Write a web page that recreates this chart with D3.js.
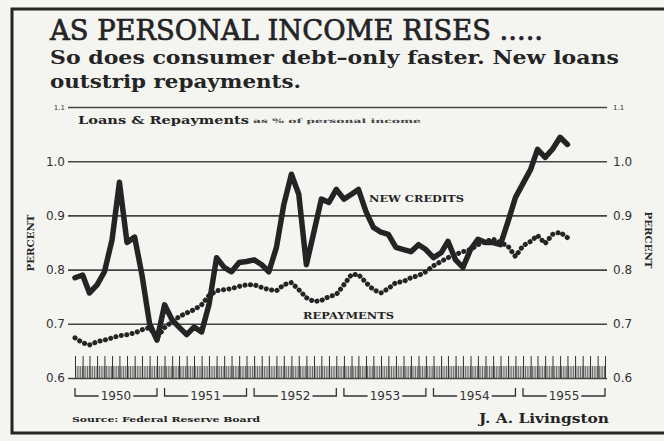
<!DOCTYPE html>
<html><head><meta charset="utf-8">
<script src="https://cdn.jsdelivr.net/npm/d3@7"></script>
<style>
html,body{margin:0;padding:0;background:#f4f4f1;}
svg{display:block;}
</style></head><body>
<svg id="c" width="664" height="441"></svg>
<script>
// ---- data (monthly, Jan 1950 – Jul 1955), % of personal income ----
const newCredits = [
  0.785, 0.790, 0.757, 0.772, 0.796, 0.855, 0.961, 0.850, 0.860, 0.790, 0.700, 0.670,
  0.735, 0.707, 0.694, 0.680, 0.694, 0.685, 0.735, 0.822, 0.804, 0.796, 0.813, 0.815,
  0.818, 0.809, 0.796, 0.841, 0.920, 0.976, 0.939, 0.809, 0.870, 0.930, 0.924, 0.948,
  0.930, 0.939, 0.948, 0.907, 0.878, 0.869, 0.865, 0.841, 0.837, 0.833, 0.846, 0.837,
  0.822, 0.831, 0.852, 0.818, 0.804, 0.837, 0.856, 0.850, 0.850, 0.846, 0.889, 0.933,
  0.959, 0.985, 1.022, 1.007, 1.022, 1.044, 1.031
];
const repayments = [
  0.674, 0.665, 0.661, 0.667, 0.670, 0.674, 0.678, 0.680, 0.683, 0.689, 0.693, 0.674,
  0.693, 0.704, 0.713, 0.720, 0.726, 0.735, 0.752, 0.761, 0.763, 0.765, 0.769, 0.772,
  0.772, 0.767, 0.763, 0.761, 0.772, 0.776, 0.763, 0.748, 0.741, 0.743, 0.750, 0.754,
  0.772, 0.791, 0.791, 0.776, 0.763, 0.757, 0.765, 0.776, 0.778, 0.785, 0.789, 0.796,
  0.807, 0.815, 0.822, 0.828, 0.833, 0.837, 0.846, 0.852, 0.856, 0.850, 0.843, 0.824,
  0.844, 0.852, 0.863, 0.848, 0.865, 0.869, 0.859
];
const yearLabels = ["1950", "1951", "1952", "1953", "1954", "1955"];
const yTicks = [0.6, 0.7, 0.8, 0.9, 1.0, 1.1];
const yTickLabels = ["0.6", "0.7", "0.8", "0.9", "1.0", "1.1"];

const firstYear = 1950;
const months = newCredits.map((_, i) => new Date(firstYear, i, 1));

// ---- layout ----
const svg = d3.select("#c");
const ink = "#242424";
const serif = "'DejaVu Serif', serif";
const sans = "'DejaVu Sans', sans-serif";

const x = d3.scaleTime()
  .domain([new Date(firstYear, 0, 1), new Date(firstYear + yearLabels.length - 1, 11, 1)])
  .range([75, 605]);
const y = d3.scaleLinear().domain([0.6, 1.1]).range([378, 107]);
const gridL = 68, gridR = 607;

// frame
svg.append("rect").attr("x", 12).attr("y", 9).attr("width", 664).attr("height", 424)
  .attr("fill", "none").attr("stroke", ink).attr("stroke-width", 3);

// titles
svg.append("text").attr("x", 50).attr("y", 40)
  .attr("textLength", 493).attr("lengthAdjust", "spacingAndGlyphs")
  .style("font", `27px ${serif}`).attr("fill", ink)
  .attr("stroke", ink).attr("stroke-width", 0.7)
  .text("AS PERSONAL INCOME RISES .....");
svg.append("text").attr("x", 50).attr("y", 64)
  .attr("textLength", 569).attr("lengthAdjust", "spacingAndGlyphs")
  .style("font", `bold 19px ${serif}`).attr("fill", ink)
  .text("So does consumer debt\u2013only faster. New loans");
svg.append("text").attr("x", 50).attr("y", 88)
  .attr("textLength", 251).attr("lengthAdjust", "spacingAndGlyphs")
  .style("font", `bold 19px ${serif}`).attr("fill", ink)
  .text("outstrip repayments.");

// gridlines + left labels
const leftAxis = svg.append("g").attr("transform", `translate(${gridL},0)`)
  .call(d3.axisLeft(y).tickValues(yTicks).tickSize(-(gridR - gridL)).tickPadding(3)
    .tickFormat((d, i) => yTickLabels[i]));
leftAxis.select(".domain").remove();
leftAxis.selectAll(".tick line").attr("stroke", "#444").attr("stroke-width", 1.6);
leftAxis.selectAll(".tick text").attr("fill", "#333")
  .style("font", `12px ${sans}`)
  .style("font-size", d => d === 1.1 ? "7px" : "12px");

const rightAxis = svg.append("g").attr("transform", `translate(${gridR},0)`)
  .call(d3.axisRight(y).tickValues(yTicks).tickSize(0).tickPadding(6)
    .tickFormat((d, i) => yTickLabels[i]));
rightAxis.select(".domain").remove();
rightAxis.selectAll(".tick text").attr("fill", "#333")
  .style("font", `12px ${sans}`)
  .style("font-size", d => d === 1.1 ? "7px" : "12px");

// time ticks along the base
const weekAxis = svg.append("g").attr("transform", `translate(0,${y(0.6)})`)
  .call(d3.axisBottom(x).ticks(d3.timeWeek).tickSize(-12).tickFormat(""));
weekAxis.select(".domain").remove();
weekAxis.selectAll(".tick line").attr("stroke", "#444").attr("stroke-width", 0.8);
const monthAxis = svg.append("g").attr("transform", `translate(0,${y(0.6)})`)
  .call(d3.axisBottom(x).ticks(d3.timeMonth).tickSize(-22).tickFormat(""));
monthAxis.select(".domain").remove();
monthAxis.selectAll(".tick line").attr("stroke", "#333").attr("stroke-width", 1);

// year brackets
const by = 396;
yearLabels.forEach((lab, i) => {
  const x0 = x(new Date(firstYear + i, 0, 1)), x1 = x(new Date(firstYear + i, 11, 1));
  const g = svg.append("g");
  const t = g.append("text").attr("x", (x0 + x1) / 2).attr("y", by + 4)
    .attr("text-anchor", "middle").style("font", `12px ${sans}`).attr("fill", "#333").text(lab);
  const w = t.node().getComputedTextLength();
  const cx = (x0 + x1) / 2;
  g.append("path")
    .attr("d", `M${x0},${by - 8}V${by}H${cx - w / 2 - 2}M${cx + w / 2 + 2},${by}H${x1}V${by - 8}`)
    .attr("fill", "none").attr("stroke", "#333").attr("stroke-width", 1.3);
});

// series
const line = d3.line().x((d, i) => x(months[i])).y(d => y(d));
svg.append("path").datum(repayments).attr("d", line)
  .attr("fill", "none").attr("stroke", ink).attr("stroke-width", 5)
  .attr("stroke-linecap", "round").attr("stroke-linejoin", "round")
  .attr("stroke-dasharray", "0.1 5.4");
svg.append("path").datum(newCredits).attr("d", line)
  .attr("fill", "none").attr("stroke", ink).attr("stroke-width", 5.5)
  .attr("stroke-linejoin", "round").attr("stroke-linecap", "round");

// inner labels
svg.append("text").attr("x", 78).attr("y", 124)
  .attr("textLength", 171).attr("lengthAdjust", "spacingAndGlyphs")
  .style("font", `bold 11px ${serif}`).attr("fill", ink).text("Loans & Repayments");
svg.append("text").attr("x", 253).attr("y", 123)
  .attr("textLength", 168).attr("lengthAdjust", "spacingAndGlyphs")
  .style("font", `bold 6px ${serif}`).attr("fill", "#444").text("as % of personal income");
svg.append("text").attr("x", 369).attr("y", 202)
  .attr("textLength", 95).attr("lengthAdjust", "spacingAndGlyphs")
  .style("font", `bold 9px ${serif}`).attr("fill", ink).text("NEW CREDITS");
svg.append("text").attr("x", 303).attr("y", 319)
  .attr("textLength", 91).attr("lengthAdjust", "spacingAndGlyphs")
  .style("font", `bold 9px ${serif}`).attr("fill", ink).text("REPAYMENTS");

svg.append("text").attr("transform", "translate(34,243) rotate(-90)")
  .attr("text-anchor", "middle").attr("textLength", 57).attr("lengthAdjust", "spacingAndGlyphs")
  .style("font", `bold 9px ${serif}`).attr("fill", ink).text("PERCENT");
svg.append("text").attr("transform", "translate(645,240) rotate(90)")
  .attr("text-anchor", "middle").attr("textLength", 57).attr("lengthAdjust", "spacingAndGlyphs")
  .style("font", `bold 9px ${serif}`).attr("fill", ink).text("PERCENT");

// credits
svg.append("text").attr("x", 72).attr("y", 422)
  .attr("textLength", 188).attr("lengthAdjust", "spacingAndGlyphs")
  .style("font", `bold 8px ${serif}`).attr("fill", ink).text("Source: Federal Reserve Board");
svg.append("text").attr("x", 479).attr("y", 423)
  .attr("textLength", 130).attr("lengthAdjust", "spacingAndGlyphs")
  .style("font", `bold 12px ${serif}`).attr("fill", ink).text("J. A. Livingston");
</script>
</body></html>
